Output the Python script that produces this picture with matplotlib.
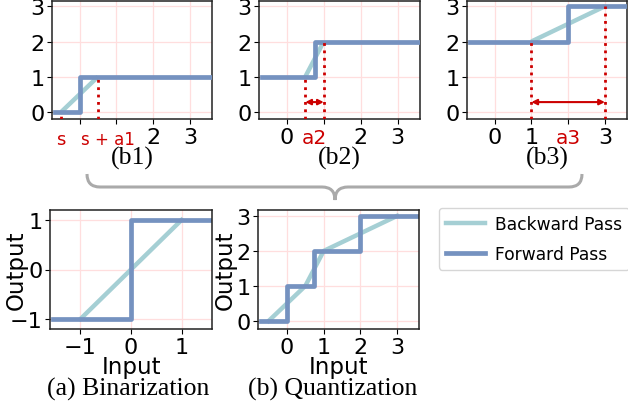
import numpy as np
import matplotlib
matplotlib.use('Agg')
import matplotlib.pyplot as plt
from matplotlib.path import Path
from matplotlib.patches import PathPatch

# forward (step) and backward (piecewise linear) functions
quant_steps = [0, 0.75, 2]          # thresholds where forward jumps
quant_levels = [0, 1, 2, 3]
bw_knots_x = [-0.5, 0.5, 1, 3]      # s, s+a1, s+a1+a2, s+a1+a2+a3
bw_knots_y = [0, 1, 2, 3]

bin_fw_x = [-1.55, 0, 0, 1.55]
bin_fw_y = [-1, -1, 1, 1]
bin_bw_x = [-1, 1]
bin_bw_y = [-1, 1]

top_labels = ['(b1)', '(b2)', '(b3)']
top_ticklabels = [['', '', '2', '3'], ['0', '', '2', '3'], ['0', '1', '', '3']]
red_marks = [['s', 's + a1'], ['a2'], ['a3']]

FW = '#7592c0'
BW = '#a5cfd4'
RED = '#cc0000'
GRID = '#ffdede'
W, H = 628, 410
XMIN, XMAX = -0.75, 3.6
TICK_FS = 16
LABEL_FS = 16.5

fig = plt.figure(figsize=(W / 100, H / 100), dpi=100)


def add_ax(left, right, top, bottom):
    return fig.add_axes([left / W, (H - bottom) / H, (right - left) / W, (bottom - top) / H])


def style(ax):
    ax.grid(True, color=GRID, lw=0.9)
    ax.set_axisbelow(True)
    ax.tick_params(labelsize=TICK_FS, pad=2)
    for sp in ax.spines.values():
        sp.set_color('#222222')
        sp.set_linewidth(1.1)


def forward_curve(xmin, xmax):
    xs, ys = [xmin], [quant_levels[0]]
    for t, lo, hi in zip(quant_steps, quant_levels[:-1], quant_levels[1:]):
        xs += [t, t]
        ys += [lo, hi]
    xs.append(xmax)
    ys.append(quant_levels[-1])
    return xs, ys


# ---- top row: one segment each ----
top_pos = [(52, 212), (259, 420), (467, 627)]
for i, (l, r) in enumerate(top_pos):
    ax = add_ax(l, r, 2, 120)
    lo, hi = quant_levels[i], quant_levels[i + 1]
    x0, x1 = bw_knots_x[i], bw_knots_x[i + 1]
    ax.plot([x0, x1], [lo, hi], color=BW, lw=3.2, solid_capstyle='butt', zorder=2)
    t = quant_steps[i]
    ax.plot([-0.68, t, t, 3.55], [lo, lo, hi, hi], color=FW, lw=3.4, zorder=3)
    ax.vlines([x0], -0.2, lo, colors=RED, linestyles=':', lw=2, zorder=4)
    ax.vlines([x1], -0.2, hi, colors=RED, linestyles=':', lw=2, zorder=4)
    if i > 0:
        ax.annotate('', xy=(x1, 0.28), xytext=(x0, 0.28),
                    arrowprops=dict(arrowstyle='<|-|>', color=RED, lw=1.5,
                                    mutation_scale=8, shrinkA=0, shrinkB=0))
    ax.set_xlim(XMIN, XMAX)
    ax.set_ylim(-0.2, 3.15)
    ax.set_xticks([0, 1, 2, 3])
    ax.set_xticklabels(top_ticklabels[i])
    ax.set_yticks([0, 1, 2, 3])
    style(ax)
    tr = ax.get_xaxis_transform()
    if i == 0:
        ax.text(x0, -0.17, red_marks[0][0], color=RED, fontsize=13, ha='center', va='center', transform=tr)
        ax.text(x1 + 0.28, -0.17, red_marks[0][1], color=RED, fontsize=12, ha='center', va='center', transform=tr)
    else:
        ax.text((x0 + x1) / 2, -0.16, red_marks[i][0], color=RED, fontsize=14.5, ha='center', va='center', transform=tr)
    fig.text((l + r) / 2 / W, 1 - 158 / H, top_labels[i], fontsize=18.5,
             family='Liberation Serif', ha='center', va='center')

# ---- brace ----
cx, y0, yb, yt = 335, 175, 188, 201
lx, rx = 87, 582
pts = [(lx, y0), (lx, yb), (lx + 13, yb), (cx - 13, yb), (cx, yb), (cx, yt),
       (cx, yb), (cx + 13, yb), (rx - 13, yb), (rx, yb), (rx, y0)]
codes = [Path.MOVETO, Path.CURVE3, Path.CURVE3, Path.LINETO, Path.CURVE3, Path.CURVE3,
         Path.CURVE3, Path.CURVE3, Path.LINETO, Path.CURVE3, Path.CURVE3]
verts = [(x / W, (H - y) / H) for x, y in pts]
fig.patches.append(PathPatch(Path(verts, codes), transform=fig.transFigure,
                             fill=False, edgecolor='#aaaaaa', lw=2.2))

# ---- (a) binarization ----
ax = add_ax(50, 212, 211, 330)
ax.plot(bin_bw_x, bin_bw_y, color=BW, lw=3.2, label='Backward Pass')
ax.plot(bin_fw_x, bin_fw_y, color=FW, lw=3.4, label='Forward Pass')
ax.set_xlim(-1.6, 1.6)
ax.set_ylim(-1.2, 1.2)
ax.set_xticks([-1, 0, 1])
ax.set_yticks([-1, 0, 1])
style(ax)
ax.set_xlabel('Input', fontsize=LABEL_FS)
ax.set_ylabel('Output', fontsize=LABEL_FS)
ax.xaxis.set_label_coords(0.5, -0.215)
ax.yaxis.set_label_coords(-0.14, 0.5)
fig.text(128 / W, 1 - 389 / H, '(a) Binarization', fontsize=18.5,
         family='Liberation Serif', ha='center', va='center')
handles, labels = ax.get_legend_handles_labels()

# ---- (b) quantization ----
ax = add_ax(258, 419, 211, 330)
ax.plot(bw_knots_x, bw_knots_y, color=BW, lw=3.2)
fx, fy = forward_curve(-0.72, 3.55)
ax.plot(fx, fy, color=FW, lw=3.4)
ax.set_xlim(-0.79, 3.6)
ax.set_ylim(-0.23, 3.17)
ax.set_xticks([0, 1, 2, 3])
ax.set_yticks([0, 1, 2, 3])
style(ax)
ax.set_xlabel('Input', fontsize=LABEL_FS)
ax.set_ylabel('Output', fontsize=LABEL_FS)
ax.xaxis.set_label_coords(0.5, -0.215)
ax.yaxis.set_label_coords(-0.13, 0.5)
fig.text(333 / W, 1 - 389 / H, '(b) Quantization', fontsize=18.5,
         family='Liberation Serif', ha='center', va='center')

fig.legend(handles, labels, loc='upper left', bbox_to_anchor=(439 / W, 1 - 209 / H),
           fontsize=12.3, handlelength=2.3, labelspacing=0.7, borderaxespad=0,
           handletextpad=0.6)

fig.savefig('out.png', dpi=100)
